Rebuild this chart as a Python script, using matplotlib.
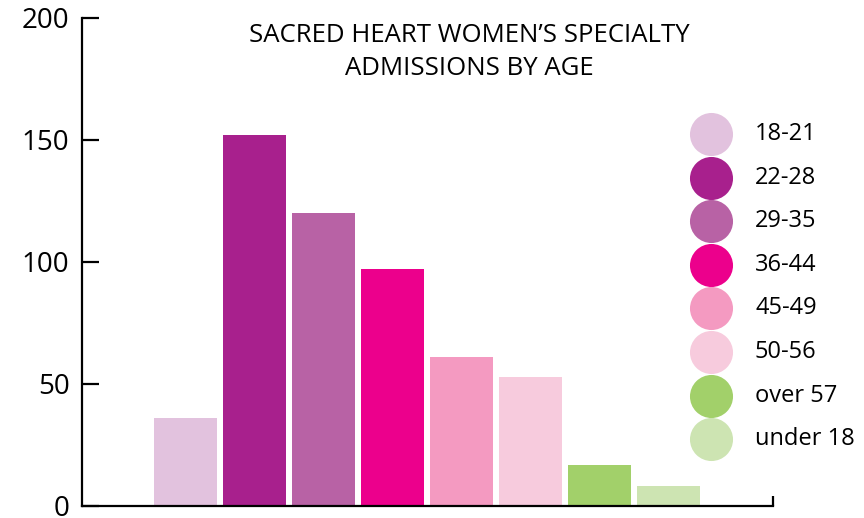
import matplotlib.pyplot as plt

plt.rcParams['font.family'] = ['Open Sans', 'DejaVu Sans']

age_groups = ['18-21', '22-28', '29-35', '36-44', '45-49', '50-56', 'over 57', 'under 18']
admissions = [36, 152, 120, 97, 61, 53, 17, 8]
colors = ['#E2C2DE', '#A8208D', '#B862A5', '#EC008C',
          '#F49AC1', '#F7CBDD', '#A2D06A', '#CDE4B2']

fig = plt.figure(figsize=(8.64, 5.18), dpi=100)
ax = fig.add_axes([0.0949, 0.0232, 0.7998, 0.9421])

x = range(len(age_groups))
ax.bar(x, admissions, width=0.913, color=colors)

ax.set_xlim(-1.5, 8.51)
ax.set_ylim(0, 200)
ax.set_yticks([0, 50, 100, 150, 200])
ax.set_xticks([8.51])
ax.set_xticklabels([])

for side in ['top', 'right']:
    ax.spines[side].set_visible(False)
for side in ['left', 'bottom']:
    ax.spines[side].set_linewidth(1.6)

ax.tick_params(axis='y', direction='in', length=12, width=1.6, pad=9, labelsize=20)
ax.tick_params(axis='x', direction='in', length=7, width=1.6)

fig.text(469 / 864, 1 - 23 / 518, 'SACRED HEART WOMEN\u2019S SPECIALTY\nADMISSIONS BY AGE',
         ha='center', va='top', fontsize=18.5, linespacing=1.4)

# legend: big dots with labels
for i, (lab, col) in enumerate(zip(age_groups, colors)):
    yy = (518 - 134 - i * 43.6) / 518
    fig.add_artist(plt.Line2D([711 / 864], [yy], marker='o', markersize=31,
                              color=col, markeredgewidth=0,
                              transform=fig.transFigure))
    fig.text(755 / 864, yy, lab, ha='left', va='center', fontsize=17)

fig.savefig('out.png', dpi=100)
